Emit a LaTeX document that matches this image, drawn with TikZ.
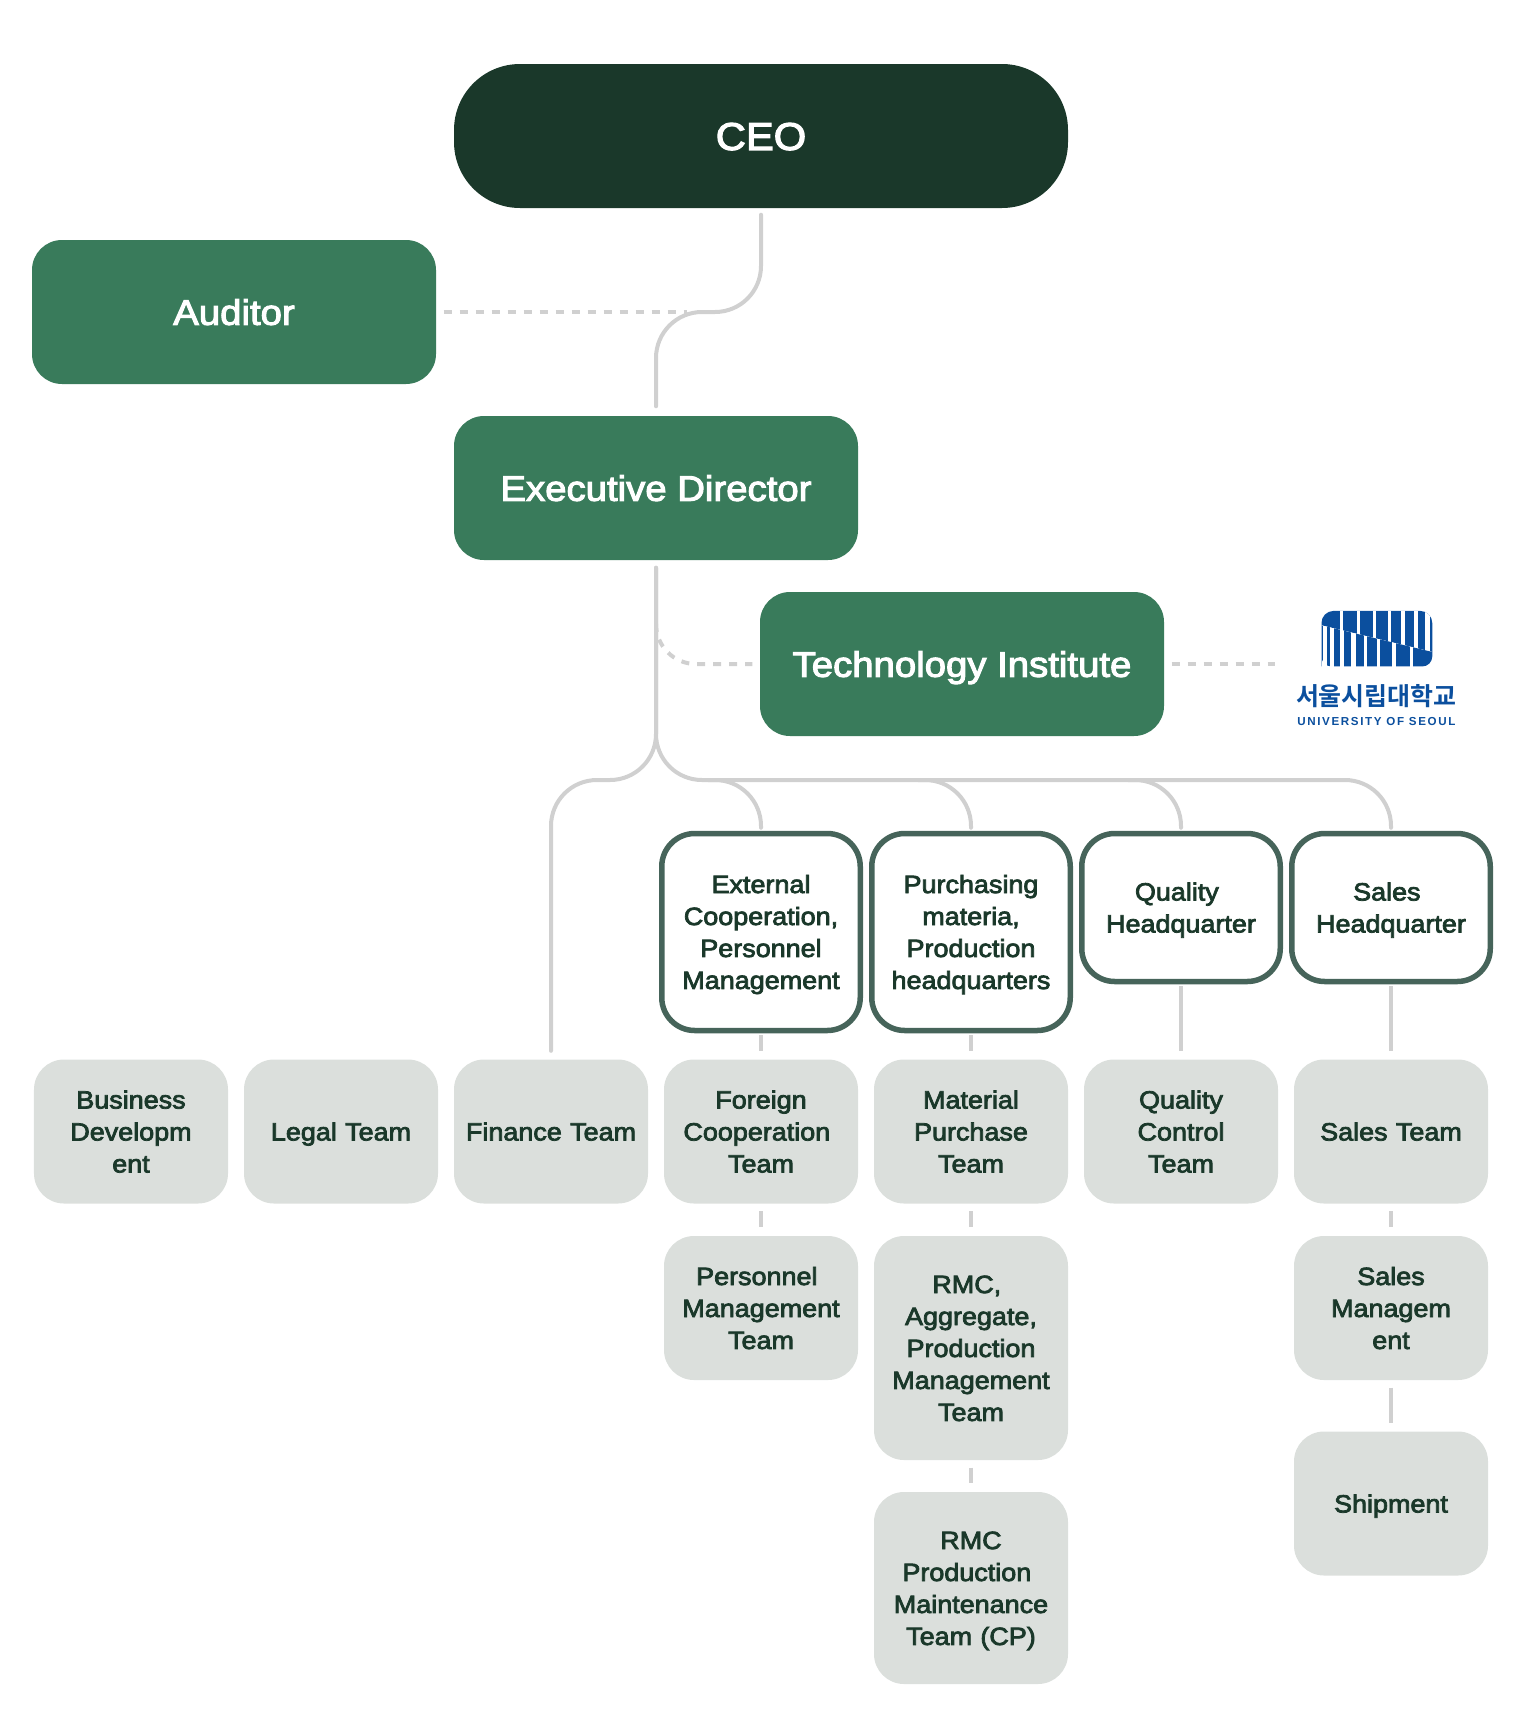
\documentclass[tikz,border=0pt]{standalone}
\usepackage{fontspec}
\setmainfont{Liberation Sans}[FakeBold=3,FakeStretch=1.08]
\newfontfamily\logokr{Noto Sans CJK KR Bold}
\newfontfamily\logolat{Liberation Sans Bold}[LetterSpace=14]
\usepackage{xcolor}
\usetikzlibrary{arrows.meta,positioning,calc}
\definecolor{ceogreen}{HTML}{1A382A}
\definecolor{midgreen}{HTML}{397B5B}
\definecolor{hdrline}{HTML}{46645A}
\definecolor{teamgrey}{HTML}{DBDFDC}
\definecolor{linegrey}{HTML}{D0D0D0}
\definecolor{logoblue}{HTML}{0B4F9E}
\newcommand{\linestrut}{\rule[-0.25em]{0pt}{1.22em}}

\begin{document}
\begin{tikzpicture}[
  font=\fontsize{7.1pt}{9.1pt}\selectfont,
  every node/.style={execute at begin node=\linestrut, execute at end node=\linestrut},
  top/.style={fill=midgreen, text=white, rounded corners=0.3cm, minimum width=4.04cm, minimum height=1.44cm, align=center, font=\fontsize{10.1pt}{12pt}\selectfont},
  hdr/.style={draw=hdrline, line width=0.055cm, fill=white, text=ceogreen, rounded corners=0.33cm, text width=1.985cm, inner xsep=0pt, align=center},
  team/.style={fill=teamgrey, text=ceogreen, rounded corners=0.3cm, text width=1.94cm, inner xsep=0pt, minimum height=1.44cm, align=center},
  link/.style={draw=linegrey, line width=0.04cm, shorten <=0.07cm, shorten >=0.08cm},
  curve/.style={link, rounded corners=0.46cm, line cap=round},
  stub/.style={link, shorten <=0.02cm},
  dots/.style={link, dash pattern=on 0.08cm off 0.08cm}
]
\useasboundingbox (0,0) rectangle (15.2,-17.2);
% Top level
\node[top, fill=ceogreen, rounded corners=0.66cm, minimum width=6.14cm, font=\fontsize{11pt}{13pt}\selectfont] (ceo) at (7.61,-1.36) {CEO};
\node[top] (auditor) at (2.34,-3.12) {Auditor};
\node[top] (exec) at (6.56,-4.88) {Executive Director};
\node[top] (tech) at (9.62,-6.64) {Technology Institute};
% Headquarters
\node[hdr, minimum height=1.97cm] (ext) at (7.61,-9.32) {External\\Cooperation,\\Personnel\\Management};
\node[hdr, minimum height=1.97cm] (pur) at (9.71,-9.32) {Purchasing\\materia,\\Production\\headquarters};
\node[hdr, minimum height=1.48cm] (qual) at (11.81,-9.075) {Quality\mbox{ }\\Headquarter};
\node[hdr, minimum height=1.48cm] (sales) at (13.91,-9.075) {Sales\mbox{ }\\Headquarter};
% Teams
\node[team] (biz) at (1.31,-11.315) {Business\\Developm\\ent};
\node[team] (legal) at (3.41,-11.315) {Legal Team};
\node[team] (fin) at (5.51,-11.315) {Finance Team};
\node[team] (foreign) at (7.61,-11.315) {Foreign\\Cooperation\mbox{ }\\Team};
\node[team] (matl) at (9.71,-11.315) {Material\\Purchase\\Team};
\node[team] (qc) at (11.81,-11.315) {Quality\\Control\\Team};
\node[team] (sal) at (13.91,-11.315) {Sales Team};
\node[team] (pers) at (7.61,-13.08) {Personnel\mbox{ }\\Management\\Team};
\node[team, minimum height=2.24cm] (rmc) at (9.71,-13.48) {RMC,\mbox{ }\\Aggregate,\\Production\\Management\\Team};
\node[team] (salmgt) at (13.91,-13.08) {Sales\\Managem\\ent};
\node[team, minimum height=1.92cm] (rmcp) at (9.71,-15.88) {RMC\\Production\mbox{ }\\Maintenance\\Team (CP)};
\node[team] (ship) at (13.91,-15.035) {Shipment};
% Junctions
\coordinate (jog) at (7.085,-3.12);
\coordinate (rail) at (6.56,-7.8);
\coordinate (dotjoin) at (6.56,-6.24);
\coordinate (logoend) at (12.83,-6.64);
% Connectors
\draw[curve, shorten <=0.06cm, shorten >=0.09cm] (ceo.south) -- (ceo.south |- jog) -- (exec.north |- jog) -- (exec.north);
\draw[dots, shorten >=0.22cm] (auditor.east) -- (jog);
\draw[curve] (exec.south) -- (rail) -- (fin.north |- rail) -- (fin.north);
\draw[curve, shorten >=0.03cm] (exec.south) -- (rail) -- (sales.north |- rail) -- (sales.north);
\foreach \hdrname in {ext,pur,qual} {
  \coordinate (rail-\hdrname) at ($(\hdrname.north |- rail)+(-0.6,0)$);
  \draw[curve, shorten >=0.03cm] (rail-\hdrname) -| (\hdrname.north);
}
\draw[dots, rounded corners=0.4cm, shorten <=0cm, shorten >=0.07cm] (dotjoin) |- (tech.west);
\draw[dots] (tech.east) -- (logoend);
\draw[stub] (ext) -- (foreign);
\draw[stub] (pur) -- (matl);
\draw[stub] (qual) -- (qc);
\draw[stub] (sales) -- (sal);
\draw[link] (foreign) -- (pers);
\draw[link] (matl) -- (rmc);
\draw[link] (rmc) -- (rmcp);
\draw[link] (sal) -- (salmgt);
\draw[link] (salmgt) -- (ship);
% Logo
\begin{scope}[shift={(12.4,-5.8)}, x=0.00333cm, y=-0.00333cm]
\begin{scope}
\clip (245,260) {[rounded corners=0.12cm] -- (245,93) -- (578,93)} {[rounded corners=0.1cm] -- (578,260) -- (245,260)} -- cycle;
\fill[logoblue] (240,90) -- (585,90) -- (585,218) -- (240,135) -- cycle;
\foreach \a/\b in {300/310,352/362,400/410,445/455,485/497,522/535,555/572}
  \fill[white] (\a,85) rectangle (\b,225);
\begin{scope}
\clip (240,135) -- (585,218) -- (585,265) -- (240,265) -- cycle;
\fill[white] (240,135) -- (585,218) -- (585,265) -- (240,265) -- cycle;
\foreach \a/\b in {243/250,262/272,282/302,312/335,348/372,382/412,422/458,468/510,520/585}
  \fill[logoblue] (\a,130) rectangle (\b,265);
\end{scope}
\end{scope}
\node[text=logoblue, font=\logokr\fontsize{7.1pt}{8pt}\selectfont] (logokr) at (410,351) {서울시립대학교};
\node[text=logoblue, font=\logolat\fontsize{3.3pt}{4pt}\selectfont] (logolat) at (410,425) {UNIVERSITY OF SEOUL};
\end{scope}
\end{tikzpicture}
\end{document}
